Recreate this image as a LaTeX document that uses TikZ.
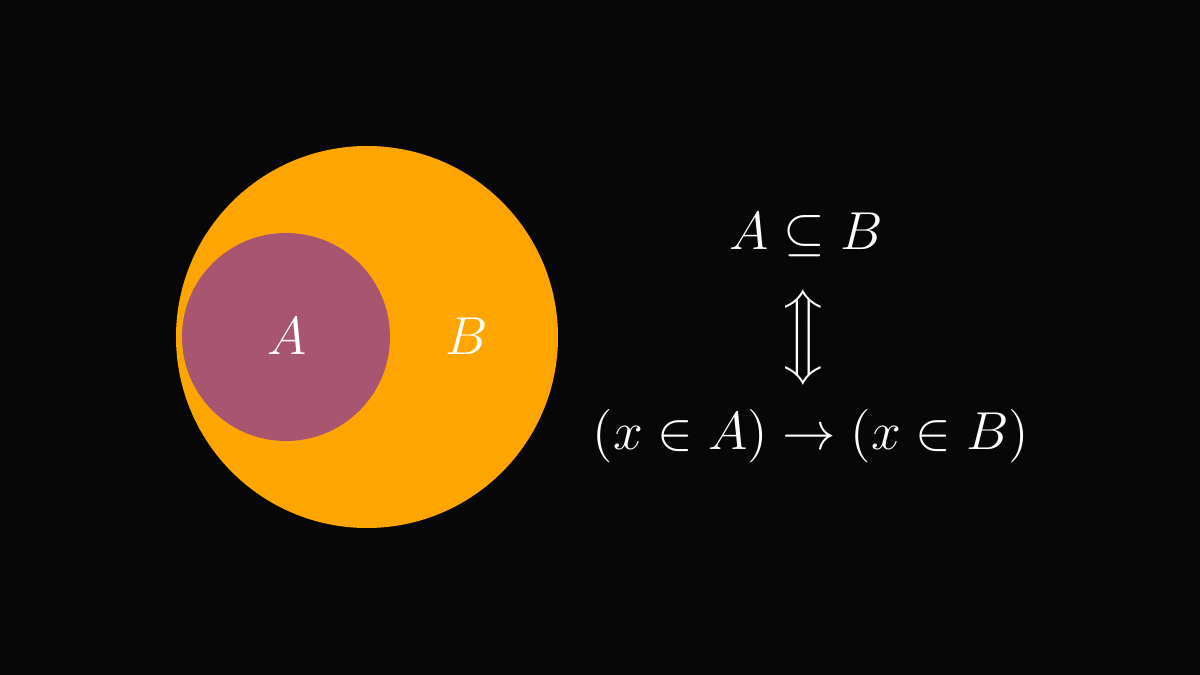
\documentclass[tikz,border=0pt]{standalone}
\usepackage{amsmath,amssymb}
\definecolor{bgblack}{RGB}{7,7,7}
\definecolor{setorange}{RGB}{255,165,0}
\definecolor{setpurple}{RGB}{168,85,114}
\begin{document}
\begin{tikzpicture}[
    txt/.style={text=white, inner sep=0pt, anchor=base, scale=1.056, transform shape, font=\fontsize{14.4}{17}\selectfont},
    setb/.style={circle, fill=setorange, inner sep=0pt, minimum size=3.82cm},
    seta/.style={circle, fill=setpurple, inner sep=0pt, minimum size=2.08cm},
]
    \fill[bgblack] (0,0) rectangle (12,6.75);
    \useasboundingbox (0,0) rectangle (12,6.75);
    % Venn diagram
    \node[setb] (B) at (3.67, 3.38) {};
    \node[seta] (A) at (2.86, 3.38) {};
    \node[txt] (labelA) at (2.87, 3.20) {$A$};
    \node[txt] (labelB) at (4.67, 3.20) {$B$};
    % Definition
    \node[txt] (subset) at (8.06, 4.25) {$A \subseteq B$};
    \node[txt] (equiv) at (8.06, 3.24) {\smash{$\left\Updownarrow\rule[-6pt]{0pt}{21pt}\right.$}};
    \node[txt] (impl) at (8.11, 2.25) {$(x \in A) \rightarrow (x \in B)$};
\end{tikzpicture}
\end{document}
